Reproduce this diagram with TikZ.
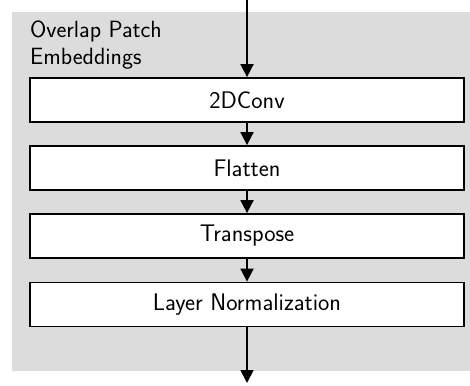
\documentclass[tikz,border=0pt]{standalone}
\usepackage{fontspec}
\usetikzlibrary{arrows.meta}
\definecolor{bggray}{RGB}{220,220,220}
\tikzset{
  layerbox/.style={draw=black, line width=1.8pt, fill=white, minimum width=434pt, minimum height=44pt, inner sep=0pt, font=\sffamily\fontsize{24}{28}\selectfont},
  flow/.style={line width=1.8pt, -{Triangle[width=13pt,length=13pt]}}
}
\begin{document}
\begin{tikzpicture}[x=1pt,y=-1pt]
\useasboundingbox (0,0) rectangle (470,385);
\fill[bggray] (12,12) rectangle (470,371);
\node[anchor=north west, align=left, inner sep=0pt, font=\sffamily\fontsize{23.5}{27}\selectfont] (title) at (30,21) {Overlap Patch\\Embeddings};
\node[layerbox] (conv) at (247,100) {2DConv};
\node[layerbox] (flat) at (247,168) {Flatten};
\node[layerbox] (trans) at (247,236) {Transpose};
\node[layerbox] (norm) at (247,304.5) {Layer Normalization};
\coordinate (in) at (247,0);
\coordinate (out) at (247,383);
\draw[flow] (in) -- (conv);
\draw[flow] (conv) -- (flat);
\draw[flow] (flat) -- (trans);
\draw[flow] (trans) -- (norm);
\draw[flow] (norm) -- (out);
\end{tikzpicture}
\end{document}
